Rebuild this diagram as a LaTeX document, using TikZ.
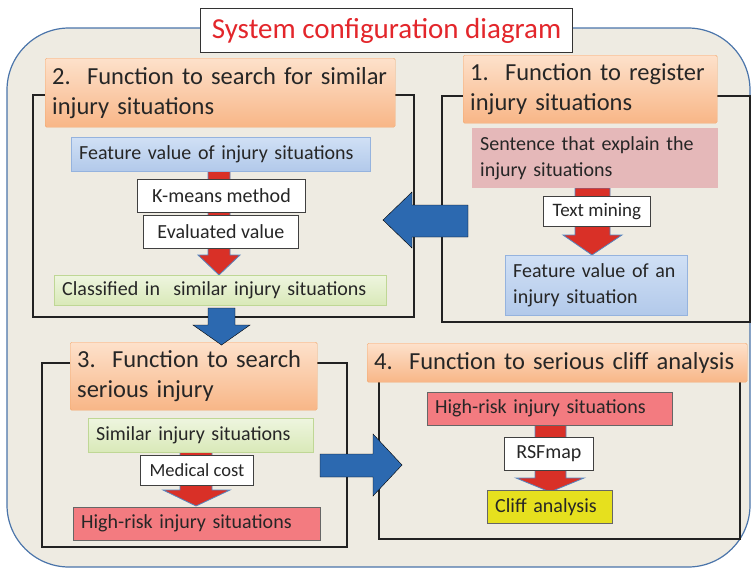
\documentclass[tikz,border=0pt]{standalone}
\usepackage{fontspec}
\setmainfont{Carlito}
\definecolor{bg}{HTML}{EEEBE2}
\definecolor{bgline}{HTML}{4A74AA}
\definecolor{frameline}{HTML}{222222}
\definecolor{titlered}{HTML}{E3262B}
\definecolor{hdrtop}{HTML}{FDE1CB}
\definecolor{hdrbot}{HTML}{F8B687}
\definecolor{hdrline}{HTML}{F2A86E}
\definecolor{bluetop}{HTML}{D0E0F5}
\definecolor{bluebot}{HTML}{B2C9EA}
\definecolor{blueline}{HTML}{95B3DE}
\definecolor{pinkfill}{HTML}{E5B8B9}
\definecolor{greentop}{HTML}{EEF5DF}
\definecolor{greenbot}{HTML}{D9E9B8}
\definecolor{greenline}{HTML}{BFD795}
\definecolor{riskfill}{HTML}{F37B80}
\definecolor{yellowfill}{HTML}{E6E01E}
\definecolor{arrowred}{HTML}{D93027}
\definecolor{arrowblue}{HTML}{2C69B0}
\tikzset{
  hdr/.style={draw=hdrline, top color=hdrtop, bottom color=hdrbot, rounded corners=1.5pt,
    anchor=north west, align=left, inner xsep=7pt, inner ysep=0pt,
    font=\fontsize{24.5}{30}\selectfont, text=black!85},
  cbox/.style={anchor=north west, align=left, inner xsep=8pt, inner ysep=0pt,
    font=\fontsize{20}{25.5}\selectfont, text=black!85},
  bluebox/.style={cbox, draw=blueline, top color=bluetop, bottom color=bluebot},
  pinkbox/.style={cbox, fill=pinkfill},
  greenbox/.style={cbox, draw=greenline, top color=greentop, bottom color=greenbot},
  riskbox/.style={cbox, draw=black!60, fill=riskfill},
  yellowbox/.style={cbox, draw=black!60, fill=yellowfill},
  lbl/.style={anchor=north west, draw=black!75, fill=white, line width=0.9pt, align=center,
    inner sep=0pt, font=\fontsize{20}{24}\selectfont, text=black!85},
  framebox/.style={draw=frameline, line width=1.3pt},
  redarrow/.style={fill=arrowred, draw=arrowblue!80, line width=0.8pt},
  bluearrow/.style={fill=arrowblue},
}
\begin{document}
\begin{tikzpicture}[x=1pt,y=-1pt]
\useasboundingbox (0,0) rectangle (754,571);
% background
\draw[bgline, line width=1.2pt, fill=bg, rounded corners=62pt] (7,28) rectangle (750,567);
% title
\node[lbl, draw=black!80, line width=1.2pt, minimum width=372pt, minimum height=44pt,
  font=\fontsize{29}{32}\selectfont, text=titlered] (title) at (200,8) {System configuration diagram};

% frames
\draw[framebox] (33,95) rectangle (414,317);
\draw[framebox] (442,96) rectangle (750,322);
\draw[framebox] (42,363) rectangle (347,547);
\draw[framebox] (379,365) rectangle (740,539);

% ---------- function 2 ----------
\node[hdr, minimum width=350pt, minimum height=69pt, text width=336pt] (h2) at (45,58)
  {\mbox{2.\ \ Function to search for similar}\\\mbox{injury situations}};
\draw[redarrow] (208,171) -- (230,171) -- (230,255) -- (240,255) -- (219,275) -- (198,255) -- (208,255) -- cycle;
\node[bluebox, minimum width=299pt, minimum height=34pt, text width=283pt] (fv2) at (71,137)
  {\mbox{Feature value of injury situations}};
\node[lbl, minimum width=168pt, minimum height=33pt] (km) at (137,179) {K-means method};
\node[lbl, minimum width=155pt, minimum height=33pt] (ev) at (143,215) {Evaluated value};
\node[greenbox, minimum width=332pt, minimum height=30pt, text width=316pt] (cl) at (54,275)
  {\mbox{Classified in\ \ similar injury situations}};

% ---------- function 1 ----------
\node[hdr, minimum width=254pt, minimum height=68pt, text width=240pt] (h1) at (463,55)
  {\mbox{1.\ \ Function to register}\\\mbox{injury situations}};
\draw[redarrow] (575,188) -- (610,188) -- (610,235) -- (622,235) -- (592,255) -- (563,235) -- (575,235) -- cycle;
\node[pinkbox, minimum width=246pt, minimum height=60pt, text width=230pt] (sent) at (472,128)
  {\mbox{Sentence that explain the}\\\mbox{injury situations}};
\node[lbl, minimum width=107pt, minimum height=30pt, font=\fontsize{19}{22}\selectfont] (tm) at (543,196) {Text mining};
\node[bluebox, minimum width=182pt, minimum height=60pt, text width=166pt] (fv1) at (505,255)
  {\mbox{Feature value of an}\\\mbox{injury situation}};

% ---------- function 3 ----------
\node[hdr, minimum width=247pt, minimum height=68pt, text width=233pt] (h3) at (70,342)
  {\mbox{3.\ \ Function to search}\\\mbox{serious injury}};
\draw[redarrow] (180,452) -- (212,452) -- (212,490) -- (230,490) -- (196,506) -- (163,490) -- (180,490) -- cycle;
\node[greenbox, minimum width=225pt, minimum height=34pt, text width=209pt] (sim) at (88,418)
  {\mbox{Similar injury situations}};
\node[lbl, minimum width=113pt, minimum height=30pt, font=\fontsize{18.5}{22}\selectfont] (mc) at (140,455) {Medical cost};
\node[riskbox, minimum width=247pt, minimum height=33pt, text width=231pt] (hr3) at (73,507)
  {\mbox{High-risk injury situations}};

% ---------- function 4 ----------
\node[hdr, minimum width=380pt, minimum height=39pt, text width=366pt] (h4) at (367,343)
  {\mbox{4.\ \ Function to serious cliff analysis}};
\draw[redarrow] (535,425) -- (566,425) -- (566,478) -- (584,478) -- (550,492) -- (516,478) -- (535,478) -- cycle;
\node[riskbox, minimum width=245pt, minimum height=33pt, text width=229pt] (hr4) at (427,392)
  {\mbox{High-risk injury situations}};
\node[lbl, minimum width=89pt, minimum height=33pt] (rsf) at (504,437) {RSFmap};
\node[yellowbox, minimum width=125pt, minimum height=33pt, text width=109pt] (cliff) at (487,490)
  {\mbox{Cliff analysis}};

% ---------- blue block arrows ----------
\draw[bluearrow] (468,205) -- (412,205) -- (412,192) -- (383,220) -- (412,248) -- (412,237) -- (468,237) -- cycle;
\draw[bluearrow] (208,308) -- (235,308) -- (235,325) -- (250,325) -- (221.5,345) -- (193,325) -- (208,325) -- cycle;
\draw[bluearrow] (320,454) -- (373,454) -- (373,434) -- (402,465) -- (373,496) -- (373,477) -- (320,477) -- cycle;
\end{tikzpicture}
\end{document}
